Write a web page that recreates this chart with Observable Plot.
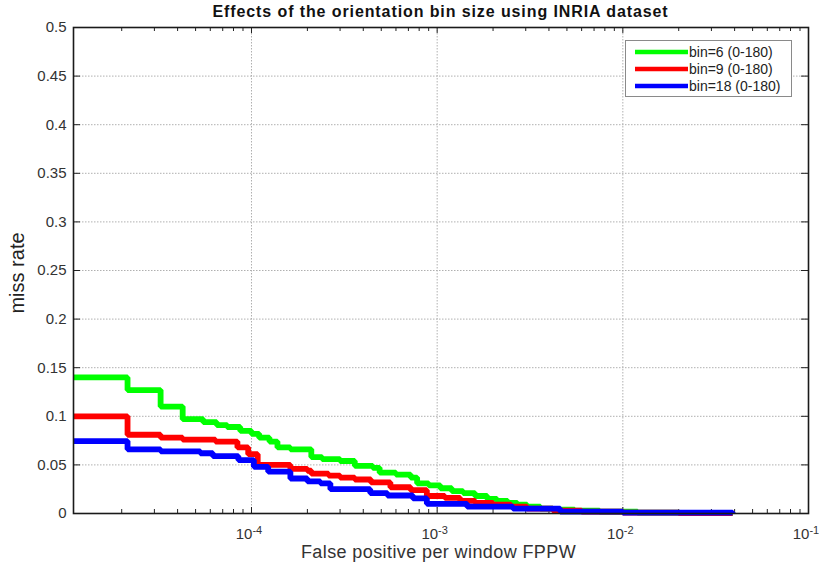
<!DOCTYPE html>
<html>
<head>
<meta charset="utf-8">
<script src="https://cdn.jsdelivr.net/npm/d3@7"></script>
<script src="https://cdn.jsdelivr.net/npm/@observablehq/plot@0.6"></script>
<style>
  html, body { margin: 0; padding: 0; background: #fff; }
  svg { display: block; }
</style>
</head>
<body>
<div id="chart"></div>
<script>
// ---- data ----
const seriesNames = ["bin=6 (0-180)", "bin=9 (0-180)", "bin=18 (0-180)"];
const seriesColors = ["#00ff00", "#ff0000", "#0000ff"];

const bin6Fppw = [1.1e-5, 2.15e-5, 3.24e-5, 4.26e-5, 5.5e-5, 6.5e-5, 7.4e-5, 8.7e-5, 1.0e-4, 1.1e-4, 1.25e-4, 1.38e-4, 1.62e-4, 2.1e-4, 2.4e-4, 3.0e-4, 3.6e-4, 4.5e-4, 4.9e-4, 6.0e-4, 7.2e-4, 7.8e-4, 9.0e-4, 1.04e-3, 1.2e-3, 1.38e-3, 1.6e-3, 1.86e-3, 2.1e-3, 2.4e-3, 2.7e-3, 3.05e-3, 3.6e-3, 4.2e-3, 5.5e-3, 7.5e-3, 1.2e-2, 2.0e-2, 3.9e-2];
const bin6Miss = [0.140, 0.127, 0.110, 0.097, 0.094, 0.091, 0.089, 0.085, 0.082, 0.078, 0.074, 0.068, 0.066, 0.058, 0.056, 0.054, 0.049, 0.047, 0.042, 0.040, 0.037, 0.031, 0.029, 0.026, 0.023, 0.021, 0.018, 0.015, 0.013, 0.011, 0.009, 0.007, 0.005, 0.004, 0.003, 0.002, 0.001, 0.0005, 0.0];

const bin9Fppw = [1.1e-5, 2.15e-5, 3.24e-5, 4.26e-5, 6.4e-5, 8.4e-5, 9.6e-5, 1.08e-4, 1.62e-4, 2.0e-4, 2.1e-4, 2.6e-4, 3.0e-4, 3.6e-4, 4.4e-4, 5.6e-4, 7.2e-4, 8.8e-4, 1.1e-3, 1.33e-3, 1.6e-3, 2.0e-3, 2.5e-3, 3.05e-3, 4.2e-3, 6.0e-3, 1.0e-2, 2.0e-2, 3.9e-2];
const bin9Miss = [0.100, 0.081, 0.078, 0.076, 0.074, 0.068, 0.061, 0.050, 0.046, 0.044, 0.041, 0.039, 0.037, 0.035, 0.032, 0.027, 0.024, 0.018, 0.016, 0.013, 0.011, 0.009, 0.007, 0.005, 0.003, 0.002, 0.001, 0.0005, 0.0];

const bin18Fppw = [1.1e-5, 2.15e-5, 3.24e-5, 5.3e-5, 6.2e-5, 8.5e-5, 1.03e-4, 1.23e-4, 1.62e-4, 2.0e-4, 2.35e-4, 2.66e-4, 4.36e-4, 5.4e-4, 7.4e-4, 8.8e-4, 1.45e-3, 2.56e-3, 4.6e-3, 1.0e-2, 3.9e-2];
const bin18Miss = [0.0745, 0.066, 0.064, 0.062, 0.059, 0.055, 0.048, 0.043, 0.036, 0.033, 0.031, 0.025, 0.021, 0.0185, 0.0155, 0.010, 0.007, 0.005, 0.002, 0.001, 0.0];

const xMajorTicks = [1e-4, 1e-3, 1e-2, 1e-1];
const xMajorExponents = ["-4", "-3", "-2", "-1"];
const yTicks = [0, 0.05, 0.1, 0.15, 0.2, 0.25, 0.3, 0.35, 0.4, 0.45, 0.5];
const xDomain = [1.1e-5, 0.1];
const yDomain = [0, 0.5];

// ---- build table ----
const fppwArrays = [bin6Fppw, bin9Fppw, bin18Fppw];
const missArrays = [bin6Miss, bin9Miss, bin18Miss];
const rows = [];
seriesNames.forEach((name, i) => {
  fppwArrays[i].forEach((f, j) => rows.push({series: name, fppw: f, miss: missArrays[i][j]}));
});
const xMinorTicks = [];
for (let e = -5; e <= -2; e++) for (let m = 2; m <= 9; m++) {
  const v = m * Math.pow(10, e);
  if (v > xDomain[0] && v < xDomain[1]) xMinorTicks.push(v);
}

const W = 819, H = 565;
const mL = 73, mR = 11, mT = 27, mB = 52;
const pw = W - mL - mR, ph = H - mT - mB;
const FONT = "Liberation Sans, Arial, sans-serif";

const chart = Plot.plot({
  width: W,
  height: H,
  marginLeft: mL,
  marginRight: mR,
  marginTop: mT,
  marginBottom: mB,
  style: {fontFamily: FONT, background: "#fff"},
  x: {type: "log", domain: xDomain},
  y: {domain: yDomain},
  color: {domain: seriesNames, range: seriesColors},
  marks: [
    Plot.gridX(xMajorTicks, {stroke: "#b0b0b0", strokeOpacity: 1, strokeDasharray: "1.5,1.5", strokeWidth: 1}),
    Plot.gridY(yTicks.slice(1, -1), {stroke: "#b0b0b0", strokeOpacity: 1, strokeDasharray: "1.5,1.5", strokeWidth: 1}),
    // inward ticks
    Plot.tickX(xMajorTicks, {x: d => d, stroke: "#222", insetTop: ph - 6}),
    Plot.tickX(xMinorTicks, {x: d => d, stroke: "#222", insetTop: ph - 4}),
    Plot.tickX(xMajorTicks, {x: d => d, stroke: "#222", insetBottom: ph - 6}),
    Plot.tickX(xMinorTicks, {x: d => d, stroke: "#222", insetBottom: ph - 4}),
    Plot.tickY(yTicks, {y: d => d, stroke: "#222", insetRight: pw - 7}),
    Plot.tickY(yTicks, {y: d => d, stroke: "#222", insetLeft: pw - 7}),
    Plot.axisX(xMajorTicks, {tickSize: 0, tickPadding: 15, fontSize: 15, fill: "#333", label: null, tickFormat: d => "10"}),
    Plot.axisY(yTicks, {tickSize: 0, tickPadding: 7, fontSize: 15, fill: "#333", label: null, tickFormat: d => String(+d.toFixed(2))}),
    Plot.line(rows, {x: "fppw", y: "miss", stroke: "series", z: "series", curve: "step-after", strokeWidth: 5.8, strokeLinejoin: "miter", strokeLinecap: "butt"}),
    Plot.frame({stroke: "#1a1a1a", strokeWidth: 1.6})
  ]
});

const svg = d3.select(chart);
// superscript exponents on x tick labels
svg.selectAll('g[aria-label="x-axis tick label"] text').each(function(d, i) {
  const t = d3.select(this);
  t.text(null).attr("font-size", 15).attr("text-anchor", "start").attr("dx", "-1.05em");
  t.append("tspan").text("10");
  t.append("tspan").attr("dy", "-0.5em").attr("font-size", 11).text(xMajorExponents[i]);
});

// title and axis labels
svg.append("text").attr("x", mL + pw / 2).attr("y", 17).attr("text-anchor", "middle")
  .attr("font-family", FONT).attr("font-weight", "bold").attr("font-size", 16).attr("letter-spacing", 0.9).attr("fill", "#111")
  .text("Effects of the orientation bin size using INRIA dataset");
svg.append("text").attr("x", mL + pw / 2 - 2).attr("y", 558).attr("text-anchor", "middle")
  .attr("font-family", FONT).attr("font-size", 18).attr("letter-spacing", 0.4).attr("fill", "#333")
  .text("False positive per window FPPW");
svg.append("text").attr("transform", `translate(24,${mT + ph / 2 + 3}) rotate(-90)`).attr("text-anchor", "middle")
  .attr("font-family", "Liberation Sans Narrow, Arial Narrow, sans-serif").attr("font-size", 20).attr("fill", "#222")
  .text("miss rate");

// legend
const lg = svg.append("g");
lg.append("rect").attr("x", 625.5).attr("y", 40.5).attr("width", 166).attr("height", 56)
  .attr("fill", "#fff").attr("stroke", "#8a8a8a").attr("stroke-width", 1);
seriesNames.forEach((name, i) => {
  const yy = 52 + i * 17;
  lg.append("line").attr("x1", 635).attr("x2", 688).attr("y1", yy).attr("y2", yy)
    .attr("stroke", seriesColors[i]).attr("stroke-width", 4.5);
  lg.append("text").attr("x", 689).attr("y", yy + 5).attr("font-size", 14).attr("text-anchor", "start")
    .attr("font-family", FONT).attr("fill", "#222").text(name);
});

document.getElementById("chart").appendChild(chart);
</script>
</body>
</html>
